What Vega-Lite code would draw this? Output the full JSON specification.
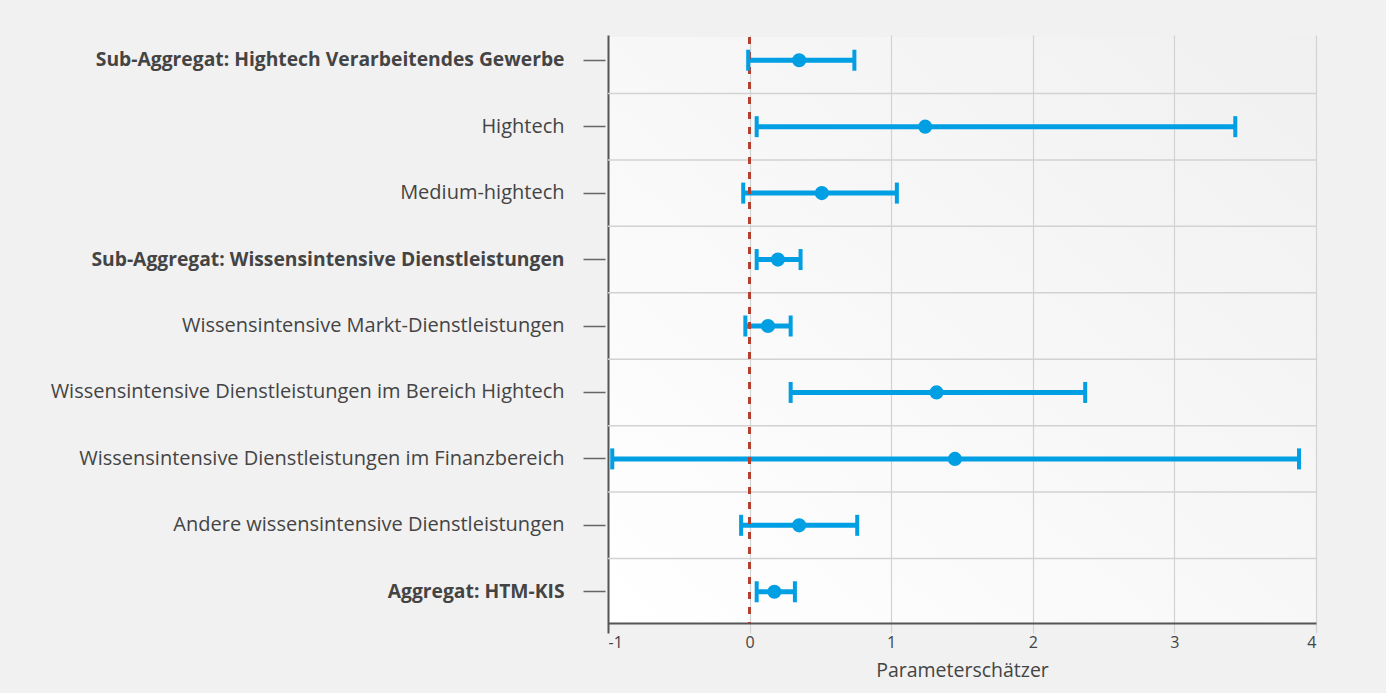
{
  "$schema": "https://vega.github.io/schema/vega-lite/v6.json",
  "width": 708,
  "height": 586,
  "autosize": {"type": "none"},
  "padding": {"left": 608, "top": 37, "right": 70, "bottom": 70},
  "background": "#f1f1f1",
  "config": {
    "font": "Open Sans",
    "view": {
      "stroke": null,
      "fill": {"gradient": "linear", "x1": 0, "y1": 1, "x2": 1, "y2": 0, "stops": [{"offset": 0, "color": "#ffffff"}, {"offset": 1, "color": "#f0f0f0"}]}
    }
  },
  "data": {
    "values": [
      {"cat": "Sub-Aggregat: Hightech Verarbeitendes Gewerbe", "lo": -0.01, "est": 0.35, "hi": 0.74},
      {"cat": "Hightech", "lo": 0.05, "est": 1.24, "hi": 3.43},
      {"cat": "Medium-hightech", "lo": -0.045, "est": 0.51, "hi": 1.04},
      {"cat": "Sub-Aggregat: Wissensintensive Dienstleistungen", "lo": 0.05, "est": 0.2, "hi": 0.36},
      {"cat": "Wissensintensive Markt-Dienstleistungen", "lo": -0.03, "est": 0.13, "hi": 0.29},
      {"cat": "Wissensintensive Dienstleistungen im Bereich Hightech", "lo": 0.29, "est": 1.32, "hi": 2.37},
      {"cat": "Wissensintensive Dienstleistungen im Finanzbereich", "lo": -0.97, "est": 1.45, "hi": 3.88},
      {"cat": "Andere wissensintensive Dienstleistungen", "lo": -0.06, "est": 0.35, "hi": 0.76},
      {"cat": "Aggregat: HTM-KIS", "lo": 0.05, "est": 0.175, "hi": 0.32}
    ]
  },
  "encoding": {
    "y": {
      "field": "cat",
      "type": "nominal",
      "sort": null,
      "title": null,
      "scale": {"type": "band", "range": [-10, 588], "paddingInner": 0, "paddingOuter": 0},
      "axis": {
        "domain": false,
        "grid": false,
        "ticks": true,
        "tickBand": "center",
        "tickSize": 25,
        "tickDash": [0, 3, 22, 100],
        "tickColor": "#666666",
        "tickWidth": 1.3,
        "tickOpacity": 1,
        "labelPadding": 19,
        "labelFontSize": {"expr": "indexof(datum.value, 'Aggregat') >= 0 ? 19.3 : 20"},
        "labelColor": "#444444",
        "labelFontWeight": {"expr": "indexof(datum.value, 'Aggregat') >= 0 ? 'bold' : 'normal'"},
        "labelLimit": 700
      }
    }
  },
  "layer": [
    {
      "mark": {"type": "rule", "color": "#d2d2d2", "strokeWidth": 1.5, "clip": true},
      "encoding": {
        "y": {"field": "cat", "type": "nominal", "sort": null, "bandPosition": 0}
      }
    },
    {
      "mark": {"type": "rule", "color": "#009fe3", "strokeWidth": 5},
      "encoding": {
        "x": {
          "field": "lo",
          "type": "quantitative",
          "scale": {"domain": [-1, 4], "nice": false, "zero": false},
          "title": "Parameterschätzer",
          "axis": {
            "values": [-1, 0, 1, 2, 3, 4],
            "labelExpr": "'' + datum.value",
            "domainColor": "#555555",
            "domainWidth": 2,
            "ticks": false,
            "grid": true,
            "gridColor": {"expr": "datum.value == -1 ? '#555555' : '#d2d2d2'"},
            "gridWidth": {"expr": "datum.value == -1 ? 2 : 1.2"},
            "labelFontSize": 16,
            "labelColor": "#444444",
            "labelPadding": 11,
            "titleFontSize": 19.5,
            "titleFontWeight": "normal",
            "titleColor": "#444444",
            "titlePadding": 11
          }
        },
        "x2": {"field": "hi"}
      }
    },
    {
      "mark": {"type": "rule", "color": "#b5402f", "strokeWidth": 2.5, "strokeDash": [7, 8]},
      "encoding": {
        "x": {"datum": 0, "type": "quantitative", "title": "Parameterschätzer"},
        "y": null
      }
    },
    {
      "mark": {"type": "tick", "color": "#009fe3", "opacity": 1, "size": 21, "thickness": 4, "orient": "vertical"},
      "encoding": {"x": {"field": "lo", "type": "quantitative", "title": "Parameterschätzer"}}
    },
    {
      "mark": {"type": "tick", "color": "#009fe3", "opacity": 1, "size": 21, "thickness": 4, "orient": "vertical"},
      "encoding": {"x": {"field": "hi", "type": "quantitative", "title": "Parameterschätzer"}}
    },
    {
      "mark": {"type": "circle", "color": "#009fe3", "opacity": 1, "size": 200},
      "encoding": {"x": {"field": "est", "type": "quantitative", "title": "Parameterschätzer"}}
    }
  ]
}
